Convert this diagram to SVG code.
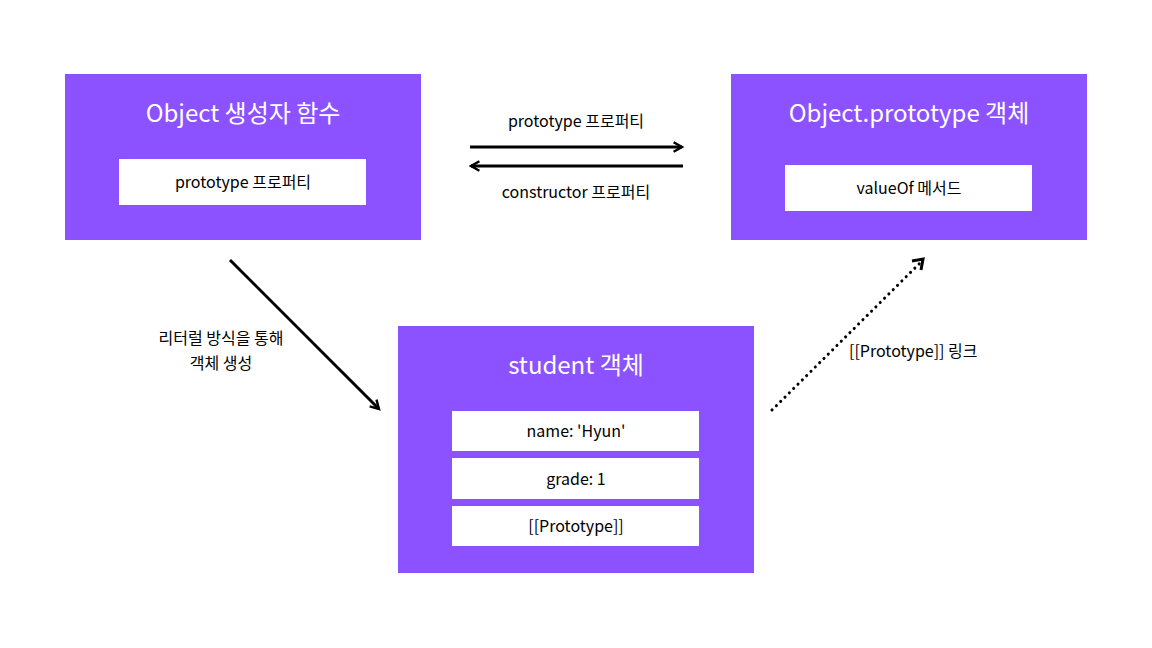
<svg xmlns="http://www.w3.org/2000/svg" width="1152" height="648" viewBox="0 0 1152 648">
<defs>
<style>
.box{fill:#8C52FF;}
.inner{fill:#FFFFFF;}
.title{font-family:"Noto Sans CJK KR","Noto Sans",sans-serif;font-size:24px;fill:#FFFFFF;text-anchor:middle;}
.lbl{font-family:"Noto Sans CJK KR","Noto Sans",sans-serif;font-size:16px;fill:#000000;text-anchor:middle;}
.line{stroke:#000;stroke-width:3;fill:none;}
.dot{stroke:#000;stroke-width:3;fill:none;stroke-dasharray:0.1 6;stroke-linecap:round;}
</style>
<marker id="ah" viewBox="0 0 10 10" refX="8" refY="5" markerWidth="4" markerHeight="4" orient="auto">
<path d="M1,1 L8,5 L1,9" fill="none" stroke="#000" stroke-width="2"/>
</marker>
</defs>
<rect width="1152" height="648" fill="#FFFFFF"/>
<g id="node-object-ctor">
<rect class="box" x="65" y="74" width="356" height="166"/>
<text class="title" x="243" y="122">Object 생성자 함수</text>
<rect class="inner" x="119" y="159" width="247" height="46"/>
<text class="lbl" x="243" y="188">prototype 프로퍼티</text>
</g>
<g id="node-object-prototype">
<rect class="box" x="731" y="74" width="356" height="166"/>
<text class="title" x="909" y="122">Object.prototype 객체</text>
<rect class="inner" x="785" y="165" width="247" height="46"/>
<text class="lbl" x="909" y="194">valueOf 메서드</text>
</g>
<g id="node-student">
<rect class="box" x="398" y="326" width="356" height="247"/>
<text class="title" x="576" y="374">student 객체</text>
<rect class="inner" x="452" y="411" width="247" height="40"/>
<text class="lbl" x="576" y="437">name: 'Hyun'</text>
<rect class="inner" x="452" y="458" width="247" height="41"/>
<text class="lbl" x="576" y="485">grade: 1</text>
<rect class="inner" x="452" y="506" width="247" height="40"/>
<text class="lbl" x="576" y="532">[[Prototype]]</text>
</g>
<g id="connectors">
<line class="line" x1="470" y1="147" x2="682" y2="147" marker-end="url(#ah)"/>
<line class="line" x1="683" y1="166" x2="471" y2="166" marker-end="url(#ah)"/>
<line class="line" x1="230" y1="260" x2="379" y2="409" marker-end="url(#ah)"/>
<line class="dot" x1="772" y1="410" x2="922" y2="261"/>
<path d="M912,261 L923,259 L921,270" fill="none" stroke="#000" stroke-width="3"/>
</g>
<g id="labels">
<text class="lbl" x="576" y="127">prototype 프로퍼티</text>
<text class="lbl" x="576" y="198">constructor 프로퍼티</text>
<text class="lbl" x="221" y="344">리터럴 방식을 통해</text>
<text class="lbl" x="221" y="369">객체 생성</text>
<text class="lbl" x="849" y="357" style="text-anchor:start">[[Prototype]] 링크</text>
</g>
</svg>
